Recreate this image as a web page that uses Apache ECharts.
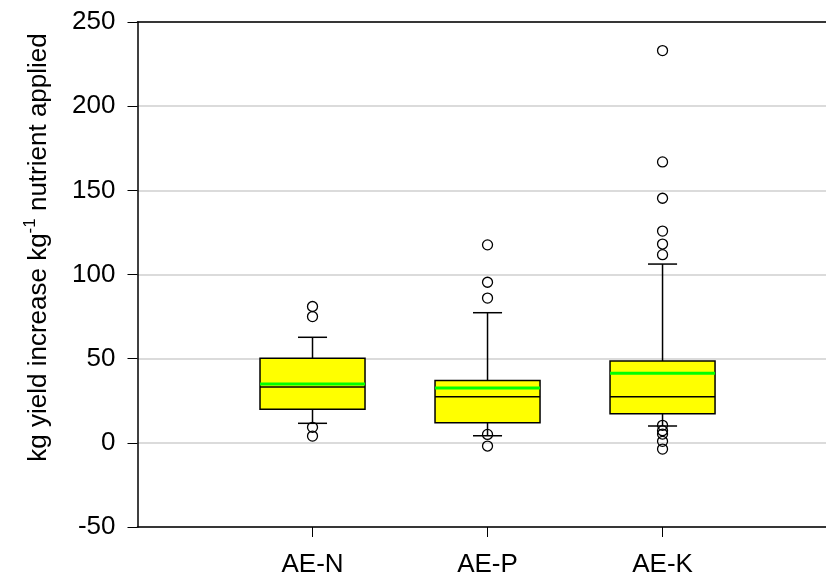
<!DOCTYPE html>
<html>
<head>
<meta charset="utf-8">
<title>Agronomic efficiency</title>
<script src="https://cdn.jsdelivr.net/npm/echarts@6/dist/echarts.min.js"></script>
<style>
  html, body { margin: 0; padding: 0; background: #fff; }
  #chart { width: 826px; height: 576px; }
</style>
</head>
<body>
<div id="chart"></div>
<script>
// Group names and their positions on the x scale
const categories = ['AE-N', 'AE-P', 'AE-K'];
const positions = [1, 2, 3];

// Box statistics per group
const whiskerLow = [11.6, 4.2, 10.0];
const q1 = [19.9, 11.9, 17.3];
const median = [33.2, 27.4, 27.4];
const q3 = [50.2, 37.1, 48.6];
const whiskerHigh = [62.7, 77.3, 106.2];
const mean = [34.9, 32.6, 41.3];

// Points beyond the whiskers, per group
const outliersN = [81, 75, 9.2, 4.0];
const outliersP = [117.6, 95.4, 86.0, 5.0, -1.9];
const outliersK = [233, 166.9, 145.3, 125.8, 118.1, 111.8, 10.4, 7.2, 5.2, 0.9, -3.7];

// Axis ranges and tick step
const xMin = 0;
const xMax = 3.934;   // the frame runs on past the right edge of the canvas
const yMin = -50;
const yMax = 250;
const yStep = 50;

const FONT = '"Liberation Sans", Arial, sans-serif';
const BOX_WIDTH = 0.6;   // in x-scale units
const CAP_WIDTH = 0.166;

const boxData = positions.map((p, i) => [p, whiskerLow[i], q1[i], median[i], q3[i], whiskerHigh[i], mean[i]]);
const outlierData = [];
[outliersN, outliersP, outliersK].forEach((list, i) => {
  list.forEach(v => outlierData.push([positions[i], v]));
});

function renderBox(params, api) {
  const x = api.value(0);
  const lo = api.coord([x, api.value(1)]);
  const b1 = api.coord([x, api.value(2)]);
  const md = api.coord([x, api.value(3)]);
  const b3 = api.coord([x, api.value(4)]);
  const hi = api.coord([x, api.value(5)]);
  const mn = api.coord([x, api.value(6)]);
  const bw = api.size([BOX_WIDTH, 0])[0];
  const cw = api.size([CAP_WIDTH, 0])[0];
  const cx = lo[0];
  const stroke = { stroke: '#000', lineWidth: 1.5, fill: null };
  const line = (x1, y1, x2, y2, style) => ({ type: 'line', shape: { x1, y1, x2, y2 }, style });
  return {
    type: 'group',
    children: [
      line(cx, hi[1], cx, b3[1], stroke),
      line(cx, b1[1], cx, lo[1], stroke),
      line(cx - cw / 2, hi[1], cx + cw / 2, hi[1], stroke),
      line(cx - cw / 2, lo[1], cx + cw / 2, lo[1], stroke),
      {
        type: 'rect',
        shape: { x: cx - bw / 2, y: b3[1], width: bw, height: b1[1] - b3[1] },
        style: { fill: '#ffff00', stroke: '#000', lineWidth: 1.5 }
      },
      line(cx - bw / 2, md[1], cx + bw / 2, md[1], { stroke: '#000', lineWidth: 1.5 }),
      line(cx - bw / 2, mn[1], cx + bw / 2, mn[1], { stroke: '#00ff00', lineWidth: 3 })
    ]
  };
}

const chart = echarts.init(document.getElementById('chart'), null, { renderer: 'canvas' });
chart.setOption({
  animation: false,
  backgroundColor: '#fff',
  grid: { left: 137.5, right: 0, top: 22, bottom: 49, outerBoundsMode: 'none', containLabel: false },
  xAxis: [
    {
      type: 'value',
      min: xMin, max: xMax,
      splitLine: { show: false },
      axisLine: { show: true, onZero: false, lineStyle: { color: '#000', width: 1.5 } },
      axisTick: { show: true, length: 10, customValues: positions, lineStyle: { color: '#000', width: 1 } },
      axisLabel: {
        customValues: positions,
        margin: 25,
        fontSize: 26,
        fontFamily: FONT,
        color: '#000',
        formatter: v => categories[positions.indexOf(v)] || ''
      }
    },
    {
      // top edge of the frame
      type: 'value',
      position: 'top',
      min: xMin, max: xMax,
      splitLine: { show: false },
      axisLine: { show: true, onZero: false, lineStyle: { color: '#000', width: 1.5 } },
      axisTick: { show: false },
      axisLabel: { show: false }
    }
  ],
  yAxis: {
    type: 'value',
    min: yMin, max: yMax, interval: yStep,
    axisLine: { show: true, lineStyle: { color: '#000', width: 1.5 } },
    axisTick: { show: true, length: 10, lineStyle: { color: '#000', width: 1 } },
    axisLabel: { margin: 22, fontSize: 26, fontFamily: FONT, color: '#000' },
    splitLine: { show: true, lineStyle: { color: '#cfcfcf', width: 1.5 } },
    name: '{a|kg yield increase kg}{b|-1}{a| nutrient applied}',
    nameLocation: 'middle',
    nameRotate: 90,
    nameGap: 86,
    nameTextStyle: {
      padding: [0, 0, 0, 54],
      rich: {
        a: { fontSize: 26, fontFamily: FONT, color: '#000', lineHeight: 30, verticalAlign: 'bottom' },
        b: { fontSize: 17, fontFamily: FONT, color: '#000', lineHeight: 30, verticalAlign: 'top' }
      }
    }
  },
  series: [
    {
      type: 'custom',
      renderItem: renderBox,
      data: boxData,
      encode: { x: 0, y: [1, 2, 3, 4, 5, 6] },
      z: 2
    },
    {
      type: 'scatter',
      data: outlierData,
      symbol: 'circle',
      symbolSize: 10,
      itemStyle: { color: 'rgba(0,0,0,0)', borderColor: '#000', borderWidth: 1.3, opacity: 1 },
      z: 3
    }
  ]
});
</script>
</body>
</html>
